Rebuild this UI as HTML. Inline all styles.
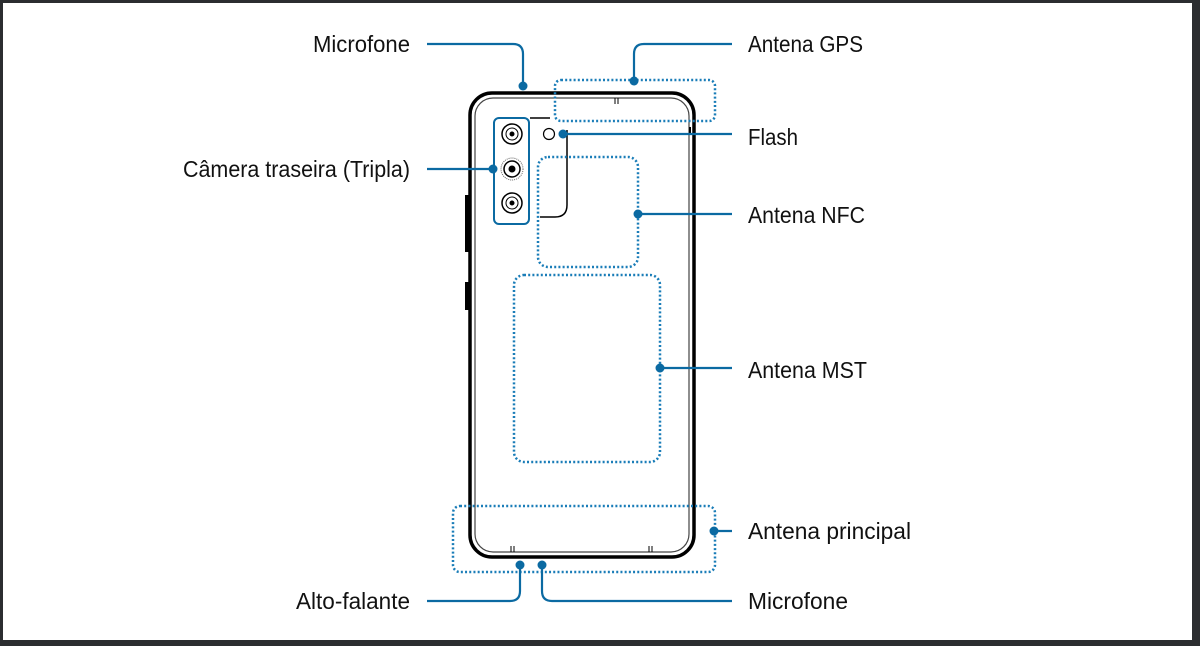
<!DOCTYPE html>
<html><head><meta charset="utf-8"><style>
html,body{margin:0;padding:0;background:#2b2d30;}
svg{display:block}
text{font-family:"Liberation Sans",sans-serif;font-size:23px;fill:#111;}
</style></head><body>
<svg width="1200" height="646" viewBox="0 0 1200 646">
<rect x="0" y="0" width="1200" height="646" fill="#2b2d30"/>
<rect x="3" y="3" width="1189" height="637" fill="#fff"/>
<!-- phone -->
<rect x="470" y="93" width="224" height="464" rx="22" fill="none" stroke="#000" stroke-width="3.5"/>
<rect x="475" y="98" width="214" height="454" rx="18" fill="none" stroke="#444" stroke-width="1.2"/>
<rect x="465" y="195" width="4" height="57" fill="#000"/>
<rect x="465" y="282" width="4" height="28" fill="#000"/>
<line x1="615" y1="98" x2="615" y2="104" stroke="#000"/><line x1="618" y1="98" x2="618" y2="104" stroke="#000"/>
<line x1="511" y1="546" x2="511" y2="552" stroke="#000"/><line x1="514" y1="546" x2="514" y2="552" stroke="#000"/>
<line x1="649" y1="546" x2="649" y2="552" stroke="#000"/><line x1="652" y1="546" x2="652" y2="552" stroke="#000"/>
<line x1="690" y1="127" x2="690" y2="133" stroke="#000" stroke-width="2"/>
<!-- camera bump -->
<path d="M530 118 H550 M567 130 V205 Q567 217 555 217 H540" fill="none" stroke="#000" stroke-width="1.5"/>
<rect x="494" y="118" width="35" height="106" rx="5" fill="none" stroke="#0b6aa2" stroke-width="2"/>
<g fill="none" stroke="#000">
<circle cx="512" cy="134" r="10" stroke-width="1.5"/><circle cx="512" cy="134" r="6"/><circle cx="512" cy="134" r="2" fill="#000"/>
<circle cx="512" cy="169" r="11" stroke-dasharray="1 1" stroke="#666"/><circle cx="512" cy="169" r="8" stroke-width="1.5"/><circle cx="512" cy="169" r="3" fill="#000"/>
<circle cx="512" cy="203" r="10" stroke-width="1.5"/><circle cx="512" cy="203" r="6"/><circle cx="512" cy="203" r="2" fill="#000"/>
<circle cx="549" cy="134" r="5.5" stroke-width="1.2"/>
</g>
<!-- dotted areas -->
<g fill="none" stroke="#1a7db8" stroke-width="2.5" stroke-dasharray="2 2.2">
<rect x="555" y="80" width="160" height="41" rx="6"/>
<rect x="538" y="157" width="100" height="110" rx="10"/>
<rect x="514" y="275" width="146" height="187" rx="10"/>
<rect x="453" y="506" width="262" height="66" rx="7"/>
</g>
<!-- leaders -->
<g fill="none" stroke="#0b6aa2" stroke-width="2.2">
<path d="M427 44 H513 Q523 44 523 54 V86"/>
<path d="M634 81 V54 Q634 44 644 44 H732"/>
<path d="M563 134 H732"/>
<path d="M427 169 H493"/>
<path d="M638 214 H732"/>
<path d="M660 368 H732"/>
<path d="M714 531 H732"/>
<path d="M520 565 V591 Q520 601 510 601 H427"/>
<path d="M542 565 V591 Q542 601 552 601 H732"/>
</g>
<g fill="#0b6aa2">
<circle cx="523" cy="86" r="4.5"/><circle cx="634" cy="81" r="4.5"/><circle cx="563" cy="134" r="4.5"/>
<circle cx="493" cy="169" r="4.5"/><circle cx="638" cy="214" r="4.5"/><circle cx="660" cy="368" r="4.5"/>
<circle cx="714" cy="531" r="4.5"/><circle cx="520" cy="565" r="4.5"/><circle cx="542" cy="565" r="4.5"/>
</g>
<!-- labels -->
<text x="313" y="52" textLength="97" lengthAdjust="spacingAndGlyphs">Microfone</text>
<text x="183" y="177" textLength="227" lengthAdjust="spacingAndGlyphs">Câmera traseira (Tripla)</text>
<text x="296" y="609" textLength="114" lengthAdjust="spacingAndGlyphs">Alto-falante</text>
<text x="748" y="52" textLength="115" lengthAdjust="spacingAndGlyphs">Antena GPS</text>
<text x="748" y="145" textLength="50" lengthAdjust="spacingAndGlyphs">Flash</text>
<text x="748" y="223" textLength="117" lengthAdjust="spacingAndGlyphs">Antena NFC</text>
<text x="748" y="378" textLength="119" lengthAdjust="spacingAndGlyphs">Antena MST</text>
<text x="748" y="539" textLength="163" lengthAdjust="spacingAndGlyphs">Antena principal</text>
<text x="748" y="609" textLength="100" lengthAdjust="spacingAndGlyphs">Microfone</text>
</svg>
</body></html>
